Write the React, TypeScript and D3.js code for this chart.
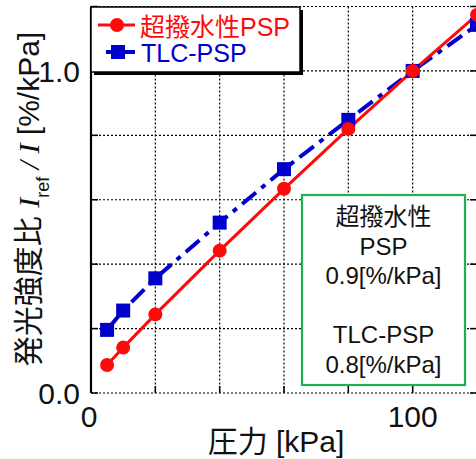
import React, { useRef, useEffect } from 'react';
import * as d3 from 'd3';

// pressure [kPa]
const pressure = [5, 10, 20, 40, 60, 80, 100, 120];
// luminescence ratio, super-hydrophobic PSP
const superPSP = [0.087, 0.141, 0.244, 0.442, 0.634, 0.82, 1.0, 1.174];
// luminescence ratio, TLC-PSP
const tlcPSP = [0.196, 0.256, 0.356, 0.529, 0.695, 0.848, 1.0, 1.143];

const xTicks = [0, 20, 40, 60, 80, 100, 120];
const yTicks = [0, 0.2, 0.4, 0.6, 0.8, 1.0, 1.2];
const xLabels = [0, 100];
const yLabels = [0, 1.0];

const seriesNames = ['超撥水性PSP', 'TLC-PSP'];
const noteLines = ['超撥水性', 'PSP', '0.9[%/kPa]', '', 'TLC-PSP', '0.8[%/kPa]'];

const SANS = "'Liberation Sans', Arial, 'Noto Sans CJK JP', sans-serif";
const SERIF = "'Liberation Serif', 'Times New Roman', serif";
const RED = '#ff0a0a';
const BLUE = '#0000cc';

function App() {
  const svgRef = useRef(null);
  const width = 476;
  const height = 459;

  useEffect(() => {
    const svg = d3.select(svgRef.current);
    svg.selectAll('*').remove();

    const left = 91, right = 477, top = 6.5, bottom = 393;

    const x = d3.scaleLinear().domain([0, 120]).range([left, right]);
    const y = d3.scaleLinear().domain([0, 1.2]).range([bottom, top]);

    svg.append('rect').attr('width', width).attr('height', height).attr('fill', '#fff');

    // dotted grid
    const grid = svg.append('g').attr('stroke', '#000').attr('stroke-width', 1.2)
      .attr('stroke-dasharray', '2,2');
    xTicks.filter(t => t > 0).forEach(t => {
      grid.append('line').attr('x1', x(t)).attr('x2', x(t)).attr('y1', top).attr('y2', bottom);
    });
    yTicks.forEach(t => {
      grid.append('line').attr('x1', left).attr('x2', right).attr('y1', y(t)).attr('y2', y(t));
    });

    // inner tick marks
    const ticks = svg.append('g').attr('stroke', '#000').attr('stroke-width', 1.5);
    xTicks.forEach(t => {
      ticks.append('line').attr('x1', x(t)).attr('x2', x(t)).attr('y1', bottom).attr('y2', bottom - 7);
    });
    yTicks.forEach(t => {
      ticks.append('line').attr('x1', left).attr('x2', left + 7).attr('y1', y(t)).attr('y2', y(t));
      ticks.append('line').attr('x1', right).attr('x2', right - 7).attr('y1', y(t)).attr('y2', y(t));
    });

    // left axis line
    svg.append('line').attr('x1', left).attr('x2', left).attr('y1', top).attr('y2', bottom)
      .attr('stroke', '#000').attr('stroke-width', 2.2);

    // tick labels
    yLabels.forEach(t => {
      svg.append('text').attr('x', 80).attr('y', y(t)).attr('dy', '0.36em')
        .attr('text-anchor', 'end').style('font-family', SANS).style('font-size', '30px')
        .attr('fill', '#111').text(d3.format('.1f')(t));
    });
    xLabels.forEach(t => {
      svg.append('text').attr('x', x(t) - (t === 0 ? 2 : 0)).attr('y', 427)
        .attr('text-anchor', 'middle').style('font-family', SANS).style('font-size', '30px')
        .attr('fill', '#111').text(t);
    });

    // axis titles
    svg.append('text').attr('x', 276).attr('y', 452).attr('text-anchor', 'middle')
      .style('font-family', SANS).style('font-size', '30px').attr('fill', '#111')
      .text('圧力 [kPa]');

    const yt = svg.append('text').attr('transform', 'translate(39,199) rotate(-90)')
      .attr('text-anchor', 'middle').style('font-family', SANS).style('font-size', '30px')
      .attr('fill', '#111');
    yt.append('tspan').text('発光強度比 ');
    yt.append('tspan').style('font-family', SERIF).style('font-style', 'italic').text('I');
    yt.append('tspan').attr('dy', 10).style('font-size', '18px').text('ref');
    yt.append('tspan').attr('dy', -10).style('font-family', SERIF).style('font-style', 'italic')
      .text(' / I');
    yt.append('tspan').text(' [%/kPa]');

    // series
    const superData = pressure.map((p, i) => [p, superPSP[i]]);
    const tlcData = pressure.map((p, i) => [p, tlcPSP[i]]);
    const line = d3.line().x(d => x(d[0])).y(d => y(d[1]));

    svg.append('path').datum(tlcData).attr('d', line).attr('fill', 'none')
      .attr('stroke', BLUE).attr('stroke-width', 4).attr('stroke-dasharray', '18,7,5,7');
    svg.append('path').datum(superData).attr('d', line).attr('fill', 'none')
      .attr('stroke', RED).attr('stroke-width', 3);

    svg.selectAll('.sq').data(tlcData).enter().append('rect').attr('class', 'sq')
      .attr('x', d => x(d[0]) - 7).attr('y', d => y(d[1]) - 7)
      .attr('width', 14).attr('height', 14).attr('fill', BLUE);
    svg.selectAll('.dot').data(superData).enter().append('circle').attr('class', 'dot')
      .attr('cx', d => x(d[0])).attr('cy', d => y(d[1])).attr('r', 7).attr('fill', RED);

    // legend
    const lg = svg.append('g');
    lg.append('rect').attr('x', 94).attr('y', 10).attr('width', 209).attr('height', 65).attr('fill', '#000');
    lg.append('rect').attr('x', 91).attr('y', 7).attr('width', 209).attr('height', 65)
      .attr('fill', '#fff').attr('stroke', '#000').attr('stroke-width', 1.5);
    lg.append('line').attr('x1', 98).attr('x2', 135).attr('y1', 25).attr('y2', 25)
      .attr('stroke', RED).attr('stroke-width', 3);
    lg.append('circle').attr('cx', 117).attr('cy', 25).attr('r', 7).attr('fill', RED);
    lg.append('line').attr('x1', 106).attr('x2', 135).attr('y1', 52).attr('y2', 52)
      .attr('stroke', BLUE).attr('stroke-width', 4);
    lg.append('rect').attr('x', 111).attr('y', 45).attr('width', 14).attr('height', 14).attr('fill', BLUE);
    lg.append('text').attr('x', 140).attr('y', 36).style('font-family', SANS).style('font-size', '25px')
      .attr('fill', RED).text(seriesNames[0]);
    lg.append('text').attr('x', 141).attr('y', 62).style('font-family', SANS).style('font-size', '25px')
      .attr('fill', BLUE).text(seriesNames[1]);

    // annotation box
    svg.append('rect').attr('x', 302).attr('y', 195).attr('width', 163).attr('height', 190)
      .attr('fill', '#fff').attr('stroke', '#1fb14f').attr('stroke-width', 2.2);
    noteLines.forEach((s, i) => {
      svg.append('text').attr('x', 383.5).attr('y', 225 + i * 29.6).attr('text-anchor', 'middle')
        .style('font-family', SANS).style('font-size', '24px').attr('fill', '#111').text(s);
    });
  }, []);

  return (
    <svg ref={svgRef} width={width} height={height}
      style={{ position: 'absolute', left: 0, top: 0, display: 'block' }} />
  );
}

export default App;
